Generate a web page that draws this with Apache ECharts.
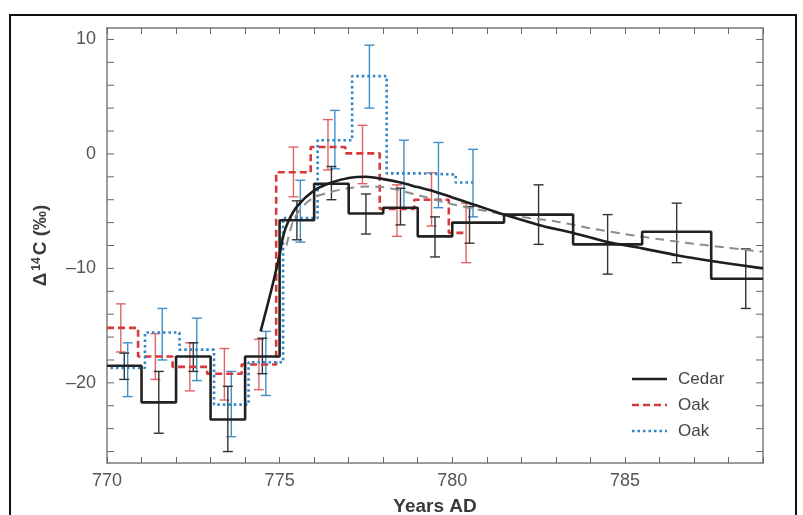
<!DOCTYPE html>
<html>
<head>
<meta charset="utf-8">
<script src="https://cdn.jsdelivr.net/npm/echarts@6/dist/echarts.min.js"></script>
<style>
html,body{margin:0;padding:0;background:#fff;}
#chart{width:803px;height:515px;}
</style>
</head>
<body>
<div id="chart"></div>
<script>
// ---- axis ticks / labels ----
const xTickLabels = [770, 775, 780, 785];
const yTickLabels = [-20, -10, 0, 10];
const yMinorTicks = [-26, -24, -22, -20, -18, -16, -14, -12, -10, -8, -6, -4, -2, 0, 2, 4, 6, 8, 10];

// ---- Cedar (black step) ----
const cedarEdges = [770, 771, 772, 773, 774, 775, 776, 777, 778, 779, 780, 781.5, 783.5, 785.5, 787.5, 789];
const cedarValues = [-18.5, -21.7, -17.7, -23.2, -17.7, -5.8, -2.6, -5.2, -4.7, -7.2, -6.0, -5.3, -7.9, -6.8, -10.9];
const cedarErrX = [770.5, 771.5, 772.5, 773.5, 774.5, 775.5, 776.5, 777.5, 778.5, 779.5, 780.5, 782.5, 784.5, 786.5, 788.5];
const cedarErrLow = [-19.7, -24.4, -19.0, -26.0, -19.2, -7.5, -4.0, -7.0, -6.2, -9.0, -7.8, -7.9, -10.5, -9.5, -13.5];
const cedarErrHigh = [-17.4, -19.0, -16.5, -20.3, -16.1, -4.1, -1.1, -3.5, -3.0, -5.5, -4.6, -2.7, -5.3, -4.3, -8.3];

// ---- Oak (red dashed step) ----
const redYears = [770, 771, 772, 773, 774, 775, 776, 777, 778, 779, 780];
const redShift = -0.1;
const redValues = [-15.2, -17.7, -18.6, -19.2, -18.4, -1.6, 0.6, 0.05, -4.8, -4.0, -6.9];
const redErrLow = [-17.3, -19.7, -20.7, -21.5, -20.6, -3.75, -1.4, -2.6, -7.2, -6.3, -9.5];
const redErrHigh = [-13.1, -15.7, -16.5, -17.0, -16.2, 0.6, 3.0, 2.5, -2.7, -1.65, -4.3];

// ---- Oak (blue dotted step) ----
const blueYears = [770, 771, 772, 773, 774, 775, 776, 777, 778, 779, 780];
const blueShift = 0.1;
const blueValues = [-18.7, -15.6, -17.1, -21.9, -18.2, -5.6, 1.2, 6.8, -1.7, -1.8, -2.5];
const blueErrLow = [-21.2, -18.0, -19.8, -24.7, -21.1, -7.7, -1.3, 4.0, -4.7, -4.7, -5.5];
const blueErrHigh = [-16.5, -13.5, -14.35, -19.0, -15.5, -2.3, 3.8, 9.5, 1.2, 1.0, 0.4];

// ---- model curves ----
const fitYears = [774.45, 774.75, 775.0, 775.1, 775.25, 775.5, 776, 776.5, 777, 777.5, 778, 778.5, 779, 779.5, 780, 780.5, 781, 781.5, 782.5, 783.5, 784.5, 785.5, 786.5, 787.5, 789];
const fitValues = [-15.5, -12.0, -8.8, -7.2, -5.9, -4.6, -3.2, -2.5, -2.1, -2.0, -2.2, -2.5, -2.9, -3.3, -3.8, -4.3, -4.8, -5.3, -6.2, -6.9, -7.7, -8.25, -8.85, -9.35, -10.0];
const altYears = [775.2, 775.4, 775.7, 776, 776.5, 777, 777.5, 778, 779, 780, 781, 782, 783, 784, 785, 786, 787, 788, 789];
const altValues = [-8.0, -5.8, -4.5, -3.8, -3.3, -3.0, -2.85, -2.9, -3.6, -4.4, -5.0, -5.5, -5.9, -6.5, -7.0, -7.45, -7.85, -8.2, -8.55];

const X_MIN = 770, X_MAX = 789, Y_MIN = -27, Y_MAX = 11;
const FONT = "'Liberation Sans', Arial, sans-serif";

function stepData(edges, values) {
  const d = values.map((v, i) => [edges[i], v]);
  d.push([edges[edges.length - 1], values[values.length - 1]]);
  return d;
}
// bin edges of a shifted oak series; the last bin stops at its error bar
function shiftedEdges(years, shift) {
  const e = years.map(y => Math.max(X_MIN, y + shift));
  e.push(years[years.length - 1] + 0.5 + shift);
  return e;
}
function errSeries(name, xs, lo, hi, color, z) {
  return {
    type: 'custom', name: name, z: z, silent: true, clip: true,
    data: xs.map((x, i) => [x, lo[i], hi[i]]),
    encode: { x: 0, y: [1, 2] },
    renderItem: function (params, api) {
      const x = api.value(0);
      const a = api.coord([x, api.value(1)]);
      const b = api.coord([x, api.value(2)]);
      const hw = 5;
      const st = { stroke: color, lineWidth: 1.4 };
      return {
        type: 'group', children: [
          { type: 'line', shape: { x1: a[0], y1: a[1], x2: b[0], y2: b[1] }, style: st },
          { type: 'line', shape: { x1: a[0] - hw, y1: a[1], x2: a[0] + hw, y2: a[1] }, style: st },
          { type: 'line', shape: { x1: b[0] - hw, y1: b[1], x2: b[0] + hw, y2: b[1] }, style: st }
        ]
      };
    }
  };
}

const fmtY = v => yTickLabels.indexOf(v) >= 0 ? (v < 0 ? '\u2013' + Math.abs(v) : String(v)) : '';
const fmtX = v => xTickLabels.indexOf(v) >= 0 ? String(v) : '';

const chart = echarts.init(document.getElementById('chart'), null, { renderer: 'canvas' });
const axisLineStyle = { color: '#7a7a7a', width: 1.5 };

chart.setOption({
  animation: false,
  backgroundColor: '#ffffff',
  grid: { left: 107, right: 40, top: 28, bottom: 52, containLabel: false, outerBoundsMode: 'none' },
  xAxis: [
    {
      type: 'value', position: 'bottom', min: X_MIN, max: X_MAX, interval: 1,
      axisLine: { show: true, onZero: false, lineStyle: axisLineStyle },
      axisTick: { show: true, inside: true, length: 6, lineStyle: { color: '#666', width: 1 } },
      axisLabel: { formatter: fmtX, color: '#555', fontSize: 18, fontFamily: FONT, margin: 9, showMinLabel: true, showMaxLabel: true },
      splitLine: { show: false },
      name: 'Years AD', nameLocation: 'middle', nameGap: 34,
      nameTextStyle: { color: '#3a3a3a', fontSize: 19, fontWeight: 'bold', fontFamily: FONT }
    },
    {
      type: 'value', position: 'top', min: X_MIN, max: X_MAX, interval: 1,
      axisLine: { show: true, onZero: false, lineStyle: axisLineStyle },
      axisTick: { show: true, inside: true, length: 6, lineStyle: { color: '#666', width: 1 } },
      axisLabel: { show: false }, splitLine: { show: false }
    }
  ],
  yAxis: [
    {
      type: 'value', position: 'left', min: Y_MIN, max: Y_MAX, interval: 1,
      axisLine: { show: true, onZero: false, lineStyle: axisLineStyle },
      axisTick: { show: false },
      axisLabel: { formatter: fmtY, color: '#555', fontSize: 18, fontFamily: FONT, margin: 11 },
      splitLine: { show: false },
      name: '{a|\u0394}{s|14}{a|C (\u2030)}', nameLocation: 'middle', nameGap: 57, nameRotate: 90,
      nameTextStyle: {
        color: '#3a3a3a', fontSize: 19, fontWeight: 'bold', fontFamily: FONT,
        rich: {
          a: { fontSize: 19, fontWeight: 'bold', color: '#3a3a3a', fontFamily: FONT },
          s: { fontSize: 12, fontWeight: 'bold', color: '#3a3a3a', fontFamily: FONT, verticalAlign: 'top', padding: [0, 2, 7, 2] }
        }
      }
    },
    {
      type: 'value', position: 'right', min: Y_MIN, max: Y_MAX, interval: 1,
      axisLine: { show: true, onZero: false, lineStyle: axisLineStyle },
      axisTick: { show: false }, axisLabel: { show: false }, splitLine: { show: false }
    }
  ],
  series: [
    // y-axis ticks (left and right edges)
    {
      type: 'custom', name: 'yticks', silent: true, clip: false, z: 1,
      data: yMinorTicks.map(v => [X_MIN, v]),
      encode: { x: 0, y: 1 },
      renderItem: function (params, api) {
        const v = api.value(1);
        const l = api.coord([X_MIN, v]);
        const r = api.coord([X_MAX, v]);
        const st = { stroke: '#666', lineWidth: 1 };
        return {
          type: 'group', children: [
            { type: 'line', shape: { x1: l[0], y1: l[1], x2: l[0] + 7, y2: l[1] }, style: st },
            { type: 'line', shape: { x1: r[0], y1: r[1], x2: r[0] - 7, y2: r[1] }, style: st }
          ]
        };
      }
    },
    errSeries('redErr', redYears.map(y => y + 0.5 + redShift), redErrLow, redErrHigh, '#e06466', 2),
    errSeries('blueErr', blueYears.map(y => y + 0.5 + blueShift), blueErrLow, blueErrHigh, '#3f90c8', 2),
    errSeries('cedarErr', cedarErrX, cedarErrLow, cedarErrHigh, '#333333', 3),
    {
      type: 'line', name: 'Oak red', step: 'end', showSymbol: false, z: 4,
      data: stepData(shiftedEdges(redYears, redShift), redValues),
      lineStyle: { color: '#d8383b', width: 2.6, type: [7, 4] }
    },
    {
      type: 'line', name: 'Oak blue', step: 'end', showSymbol: false, z: 4,
      data: stepData(shiftedEdges(blueYears, blueShift), blueValues),
      lineStyle: { color: '#2f86c6', width: 2.6, type: [2.5, 3] }
    },
    {
      type: 'line', name: 'Model 2', showSymbol: false, smooth: 0.3, z: 5,
      data: altYears.map((x, i) => [x, altValues[i]]),
      lineStyle: { color: '#8c8c8c', width: 2, type: [9, 6] }
    },
    {
      type: 'line', name: 'Cedar', step: 'end', showSymbol: false, z: 6,
      data: stepData(cedarEdges, cedarValues),
      lineStyle: { color: '#222222', width: 2.6 }
    },
    {
      type: 'line', name: 'Fit', showSymbol: false, smooth: 0.3, z: 7,
      data: fitYears.map((x, i) => [x, fitValues[i]]),
      lineStyle: { color: '#1e1e1e', width: 2.6 }
    }
  ],
  graphic: [
    { type: 'rect', shape: { x: 10, y: 15, width: 786, height: 520 }, style: { fill: 'none', stroke: '#111', lineWidth: 2 }, z: 100 },
    { type: 'line', shape: { x1: 632, y1: 379, x2: 667, y2: 379 }, style: { stroke: '#222', lineWidth: 2.6 }, z: 100 },
    { type: 'text', x: 678, y: 379, style: { text: 'Cedar', fill: '#444', font: '17px ' + FONT, textVerticalAlign: 'middle' }, z: 100 },
    { type: 'line', shape: { x1: 632, y1: 405, x2: 667, y2: 405 }, style: { stroke: '#d8383b', lineWidth: 2.6, lineDash: [7, 4] }, z: 100 },
    { type: 'text', x: 678, y: 405, style: { text: 'Oak', fill: '#444', font: '17px ' + FONT, textVerticalAlign: 'middle' }, z: 100 },
    { type: 'line', shape: { x1: 632, y1: 431, x2: 667, y2: 431 }, style: { stroke: '#2f86c6', lineWidth: 2.6, lineDash: [2.5, 3] }, z: 100 },
    { type: 'text', x: 678, y: 431, style: { text: 'Oak', fill: '#444', font: '17px ' + FONT, textVerticalAlign: 'middle' }, z: 100 }
  ]
});
</script>
</body>
</html>
